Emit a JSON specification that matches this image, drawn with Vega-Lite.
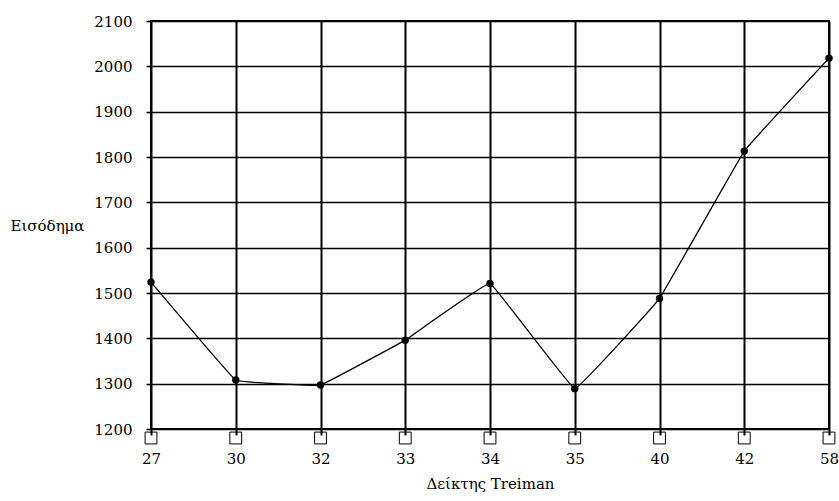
{
  "$schema": "https://vega.github.io/schema/vega-lite/v6.json",
  "width": 678,
  "height": 408,
  "autosize": "none",
  "padding": {"left": 151, "top": 21, "right": 10, "bottom": 72},
  "background": "white",
  "data": {
    "values": [
      {"treiman": "27", "income": 1524},
      {"treiman": "30", "income": 1308},
      {"treiman": "32", "income": 1297},
      {"treiman": "33", "income": 1396},
      {"treiman": "34", "income": 1521},
      {"treiman": "35", "income": 1289},
      {"treiman": "40", "income": 1488},
      {"treiman": "42", "income": 1813},
      {"treiman": "58", "income": 2018}
    ]
  },
  "encoding": {
    "x": {
      "field": "treiman",
      "type": "ordinal",
      "sort": null,
      "scale": {"type": "point", "padding": 0},
      "axis": {
        "title": "Δείκτης Treiman",
        "labelAngle": 0,
        "grid": true,
        "gridColor": "black",
        "gridWidth": 2,
        "gridOpacity": 1,
        "tickSize": 6,
        "tickWidth": 2,
        "tickColor": "black",
        "labelPadding": 16,
        "titlePadding": 10
      }
    }
  },
  "layer": [
    {
      "mark": {"type": "line", "color": "black", "strokeWidth": 1.3, "interpolate": "cardinal", "tension": 0.85},
      "encoding": {
        "y": {
          "field": "income",
          "type": "quantitative",
          "scale": {"domain": [1200, 2100], "nice": false, "zero": false},
          "axis": {
            "title": "Εισόδημα",
            "format": "d",
            "values": [1200, 1300, 1400, 1500, 1600, 1700, 1800, 1900, 2000, 2100],
            "grid": true,
            "gridColor": "black",
            "gridWidth": 1.6,
            "gridOpacity": 1,
            "tickSize": 5,
            "tickColor": "black",
            "tickWidth": 1.6,
            "labelPadding": 14,
            "titleAngle": 0,
            "titleAlign": "left",
            "titleBaseline": "middle",
            "titleX": -141,
            "titleY": 204
          }
        }
      }
    },
    {
      "mark": {"type": "point", "filled": true, "color": "black", "size": 55, "opacity": 1},
      "encoding": {
        "y": {"field": "income", "type": "quantitative"}
      }
    },
    {
      "mark": {"type": "point", "shape": "square", "filled": false, "color": "black", "size": 140, "strokeWidth": 1, "opacity": 1, "yOffset": 9},
      "encoding": {
        "y": {"datum": 1200, "type": "quantitative"}
      }
    }
  ],
  "config": {
    "font": "DejaVu Serif",
    "view": {"stroke": "black", "strokeWidth": 2},
    "axis": {
      "domain": false,
      "labelFont": "DejaVu Serif",
      "titleFont": "DejaVu Serif",
      "labelFontSize": 15,
      "titleFontSize": 15,
      "titleFontWeight": "normal",
      "labelColor": "black",
      "titleColor": "black"
    }
  }
}
